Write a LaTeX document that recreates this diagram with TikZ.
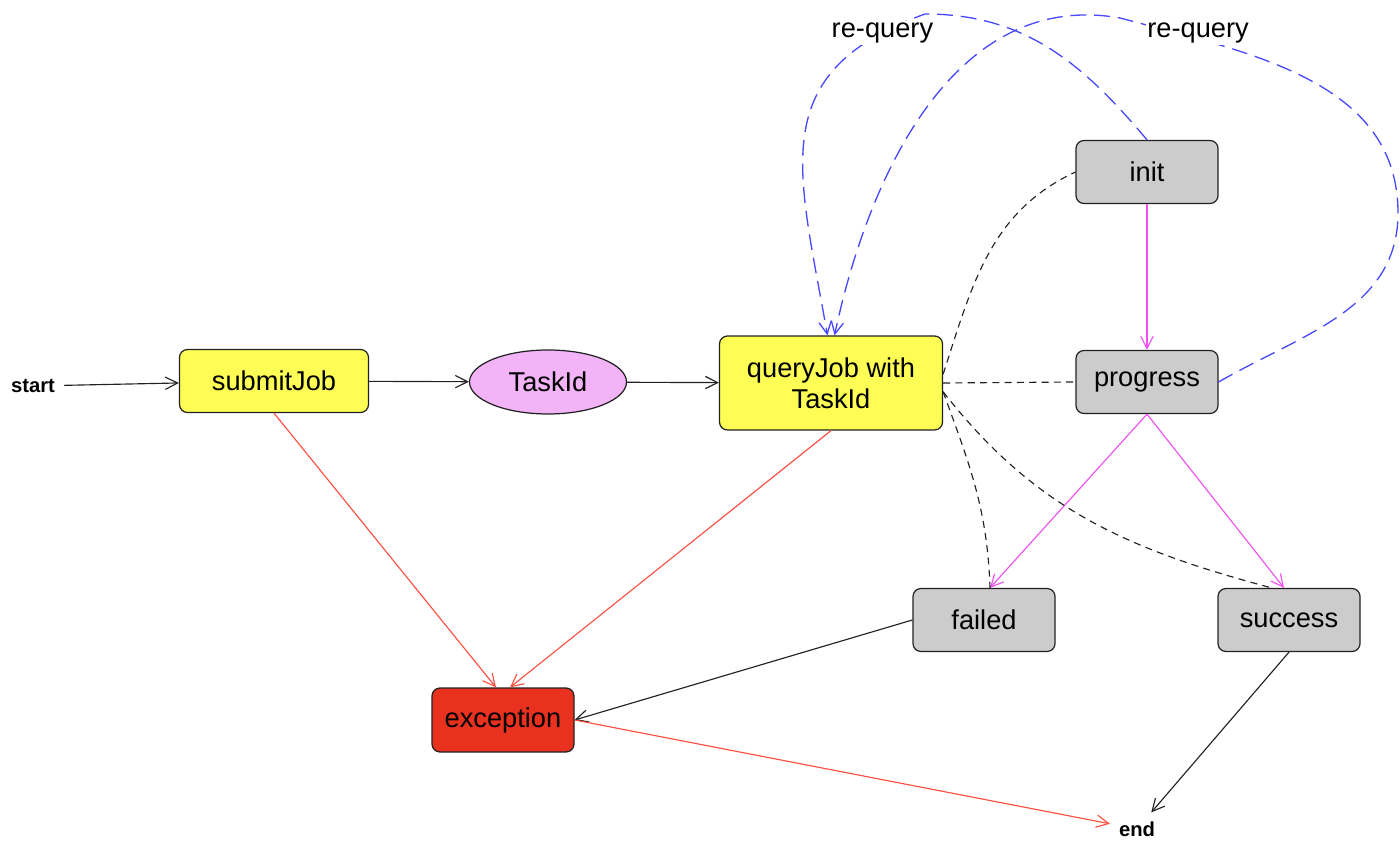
\documentclass[tikz,border=0pt]{standalone}
\usepackage{fontspec}
\setmainfont{Liberation Sans}
\usepackage{tikz}
\usetikzlibrary{shapes,arrows,arrows.meta,positioning,calc}
\usepackage{xcolor}
\definecolor{jobyellow}{HTML}{FEFD55}
\definecolor{stategray}{HTML}{CCCCCC}
\definecolor{tokenviolet}{HTML}{F2B3F7}
\definecolor{errfill}{HTML}{E8321F}
\definecolor{errline}{HTML}{FF4F40}
\definecolor{stageline}{HTML}{F050F0}
\definecolor{requeryblue}{HTML}{4848FF}
\definecolor{edgeblack}{HTML}{222222}

\begin{document}
\begin{tikzpicture}[
    font=\fontsize{15.5}{17.5}\selectfont,
    >={Straight Barb[length=7pt,width=7pt]},
    boxbase/.style={draw=edgeblack, line width=0.7pt, rounded corners=4.5pt, inner sep=2pt},
    jobbox/.style={boxbase, fill=jobyellow},
    statebox/.style={boxbase, fill=stategray, minimum width=2.84cm, minimum height=1.26cm},
    errbox/.style={boxbase, fill=errfill, minimum width=2.84cm, minimum height=1.28cm},
    tokenell/.style={draw=edgeblack, line width=0.7pt, ellipse, fill=tokenviolet, minimum width=3.14cm, minimum height=1.28cm, inner sep=1pt},
    termtext/.style={font=\fontsize{11.5}{13}\selectfont\bfseries, inner sep=5pt},
    flowarr/.style={->, draw=edgeblack, line width=0.65pt},
    errarr/.style={->, draw=errline, line width=0.65pt},
    stagearr/.style={->, draw=stageline, line width=0.65pt},
    pollline/.style={draw=edgeblack, line width=0.65pt, dash pattern=on 4pt off 3pt},
    requery/.style={->, draw=requeryblue, line width=0.75pt, dash pattern=on 9pt off 4.5pt},
    rqlabel/.style={fill=white, inner sep=1pt}
]
    \useasboundingbox (0,0) rectangle (28,16.94);

    % Job flow
    \node[termtext] (start) at (0.66,9.22) {start};
    \node[jobbox, minimum width=3.78cm, minimum height=1.26cm] (submit) at (5.48,9.32) {submitJob};
    \node[tokenell] (taskid) at (10.96,9.30) {TaskId};
    \node[jobbox, minimum width=4.46cm, minimum height=1.88cm, align=center] (query) at (16.62,9.28) {queryJob with\\TaskId};

    % Task states
    \node[statebox] (init) at (22.94,13.50) {init};
    \node[statebox] (progress) at (22.94,9.30) {progress};
    \node[statebox] (failed) at (19.68,4.54) {failed};
    \node[statebox] (success) at (25.78,4.54) {success};

    % Error and end
    \node[errbox] (exception) at (10.06,2.54) {exception};
    \node[termtext] (end) at (22.74,0.36) {end};

    % Main arrows
    \draw[flowarr] (start) -- (submit);
    \draw[flowarr] (submit) -- (taskid);
    \draw[flowarr] (taskid) -- (query);

    % Errors
    \draw[errarr] (submit.south) -- ([xshift=-4pt]exception.north);
    \draw[errarr] (query.south) -- ([xshift=4pt]exception.north);
    \draw[flowarr] (failed.west) -- (exception.east);
    \draw[errarr] (exception.east) -- (end);
    \draw[flowarr] (success.south) -- (end);

    % State changes
    \draw[stagearr] (init) -- (progress);
    \draw[stagearr] (progress.south) -- ([xshift=0.12cm]failed.north);
    \draw[stagearr] (progress.south) -- ([xshift=-0.1cm]success.north);

    % Polled states
    \draw[pollline] ([yshift=5pt]query.east) to[out=72,in=205] (init.west);
    \draw[pollline] (query.east) -- (progress.west);
    \draw[pollline] ([yshift=-5pt]query.east) to[out=-70,in=92] ([xshift=0.12cm]failed.north);
    \draw[pollline] ([yshift=-5pt]query.east) to[out=-52,in=165] ([xshift=-0.35cm]success.north);

    % Re-query loops
    \draw[requery] (init.north) to[out=130,in=0] (18.5,16.66)
        to[out=200,in=100,looseness=1.3] node[rqlabel, pos=0.1] {re-query} ([xshift=-2pt]query.north);
    \draw[requery] (progress.east) to[out=30,in=-90] (27.96,12.68)
        to[out=90,in=-15] node[rqlabel, pos=0.8, yshift=3pt] {re-query} (22.4,16.58)
        to[out=170,in=78] ([xshift=2pt]query.north);
\end{tikzpicture}
\end{document}
